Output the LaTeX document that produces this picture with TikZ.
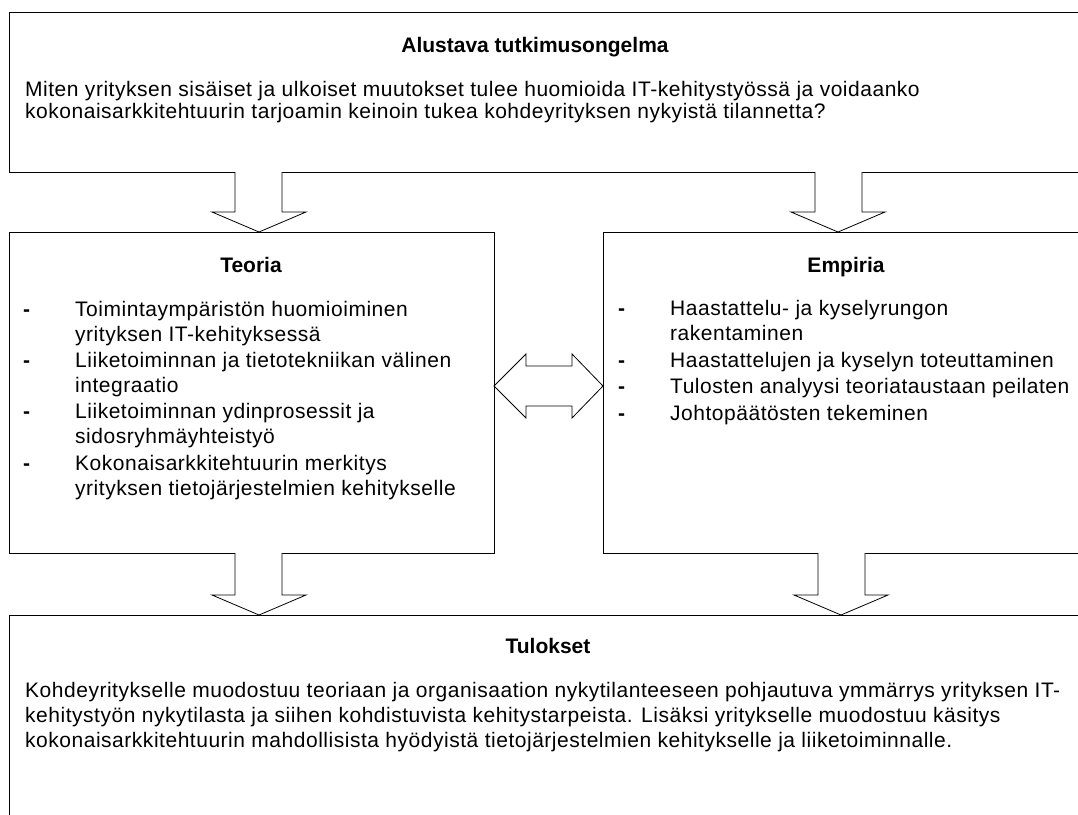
\documentclass[tikz,border=0pt]{standalone}
\usepackage{fontspec}
\setmainfont{Liberation Sans}
\newfontfamily\bodyfont[LetterSpace=2.5]{Liberation Sans}
\begin{document}
\begin{tikzpicture}[x=1pt,y=-1pt,
  box/.style={draw=black, line width=1.4pt, anchor=north west, inner sep=0pt},
  blockarrow/.style={draw=black, line width=0.8pt, fill=white, line join=miter},
  txt/.style={anchor=base west, inner sep=0pt, font=\bodyfont\fontsize{21}{25}\selectfont},
  ttl/.style={anchor=base, inner sep=0pt, font=\fontsize{21}{25}\selectfont\bfseries},
  bulletmark/.style={anchor=base west, inner sep=0pt, font=\fontsize{21}{25}\selectfont\bfseries}]
\path[use as bounding box] (0,0) rectangle (1078,814);
\clip (0,0) rectangle (1078,814);
% boxes
\node[box, minimum width=1091pt, minimum height=160pt] (top) at (9,12) {};
\node[box, minimum width=485pt, minimum height=321pt] (teoria) at (9,232) {};
\node[box, minimum width=497pt, minimum height=321pt] (empiria) at (603,232) {};
\node[box, minimum width=1091pt, minimum height=215pt] (tulokset) at (9,615) {};
% block arrows (down)
\draw[blockarrow] (235,172) -- (235,212) -- (212,212) -- (259,232) -- (306,212) -- (282,212) -- (282,172);
\draw[blockarrow] (815,172) -- (815,212) -- (791,212) -- (838,232) -- (885,212) -- (862,212) -- (862,172);
\draw[blockarrow] (235,553) -- (235,595) -- (212,595) -- (259,615) -- (306,595) -- (282,595) -- (282,553);
\draw[blockarrow] (818,553) -- (818,595) -- (794,595) -- (841,615) -- (888,595) -- (865,595) -- (865,553);
% double arrow
\draw[blockarrow] (494,386) -- (526,354) -- (526,366) -- (572,366) -- (572,354) -- (603,386)
  -- (572,418) -- (572,406) -- (526,406) -- (526,418) -- cycle;
% top text
\node[ttl] (ttop) at (535,52) {Alustava tutkimusongelma};
\node[txt] (q1) at (25,96) {Miten yrityksen sisäiset ja ulkoiset muutokset tulee huomioida IT-kehitystyössä ja voidaanko};
\node[txt] (q2) at (25,118) {kokonaisarkkitehtuurin tarjoamin keinoin tukea kohdeyrityksen nykyistä tilannetta?};
% Teoria
\node[ttl] (tteoria) at (251,272) {Teoria};
\node[bulletmark] (td1) at (23,316) {-};
\node[txt] (ta1) at (75,316) {Toimintaympäristön huomioiminen};
\node[txt] (ta2) at (75,341) {yrityksen IT-kehityksessä};
\node[bulletmark] (td2) at (23,367) {-};
\node[txt] (tb1) at (75,367) {Liiketoiminnan ja tietotekniikan välinen};
\node[txt] (tb2) at (75,392) {integraatio};
\node[bulletmark] (td3) at (23,418) {-};
\node[txt] (tc1) at (75,418) {Liiketoiminnan ydinprosessit ja};
\node[txt] (tc2) at (75,443) {sidosryhmäyhteistyö};
\node[bulletmark] (td4) at (23,470) {-};
\node[txt] (tdd1) at (75,470) {Kokonaisarkkitehtuurin merkitys};
\node[txt] (tdd2) at (75,495) {yrityksen tietojärjestelmien kehitykselle};
% Empiria
\node[ttl] (tempiria) at (846,272) {Empiria};
\node[bulletmark] (ed1) at (618,315) {-};
\node[txt] (ea1) at (670,315) {Haastattelu- ja kyselyrungon};
\node[txt] (ea2) at (670,340) {rakentaminen};
\node[bulletmark] (ed2) at (618,367) {-};
\node[txt] (eb) at (670,367) {Haastattelujen ja kyselyn toteuttaminen};
\node[bulletmark] (ed3) at (618,393) {-};
\node[txt] (ec) at (670,393) {Tulosten analyysi teoriataustaan peilaten};
\node[bulletmark] (ed4) at (618,420) {-};
\node[txt] (edd) at (670,420) {Johtopäätösten tekeminen};
% Tulokset
\node[ttl] (ttulokset) at (548,653) {Tulokset};
\node[txt] (r1) at (25,697) {Kohdeyritykselle muodostuu teoriaan ja organisaation nykytilanteeseen pohjautuva ymmärrys yrityksen IT-};
\node[txt] (r2) at (25,722) {kehitystyön nykytilasta ja siihen kohdistuvista kehitystarpeista. Lisäksi yritykselle muodostuu käsitys};
\node[txt] (r3) at (25,747) {kokonaisarkkitehtuurin mahdollisista hyödyistä tietojärjestelmien kehitykselle ja liiketoiminnalle.};
\end{tikzpicture}
\end{document}
